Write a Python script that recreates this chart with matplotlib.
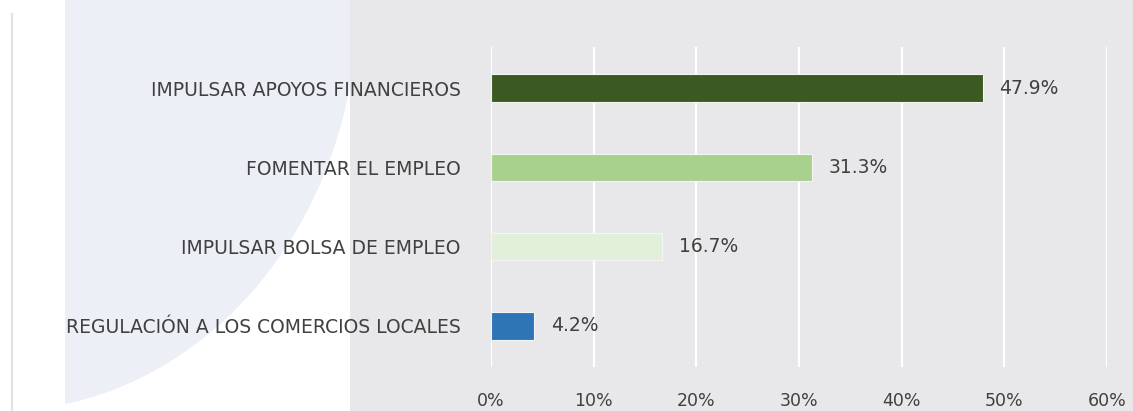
import numpy as np
import matplotlib.pyplot as plt
from matplotlib.patches import Rectangle, Ellipse

categories = ["IMPULSAR APOYOS FINANCIEROS", "FOMENTAR EL EMPLEO",
              "IMPULSAR BOLSA DE EMPLEO", "REGULACIÓN A LOS COMERCIOS LOCALES"]
values = [47.9, 31.3, 16.7, 4.2]
colors = ["#3B5A21", "#A9D18E", "#E2F0D9", "#2E75B6"]
ticks = [0, 10, 20, 30, 40, 50, 60]

W, H = 1133, 411
fig = plt.figure(figsize=(W / 100, H / 100), dpi=100)
fig.patch.set_facecolor("white")

# background decorations (lavender arc, grey panel, thin line)
fig.patches.append(Ellipse((0, 1), width=716 / W, height=822 / H,
                           transform=fig.transFigure, facecolor="#EDEFF7",
                           edgecolor="none", zorder=0))
fig.patches.append(Rectangle((0, 0), 65 / W, 1, transform=fig.transFigure,
                             facecolor="white", edgecolor="none", zorder=0.5))
fig.patches.append(Rectangle((350 / W, 0), 1 - 350 / W, 1, transform=fig.transFigure,
                             facecolor="#E8E8EA", edgecolor="none", zorder=1))
fig.lines.append(plt.Line2D([12 / W, 12 / W], [0, 1 - 14 / H], transform=fig.transFigure,
                            color="#E2E2E2", lw=1.5, zorder=1))

ax = fig.add_axes([491 / W, 1 - 367 / H, (1107 - 491) / W, (367 - 47) / H])
ax.set_facecolor("none")
ax.set_zorder(2)

txt = "#404040"
y = np.arange(len(categories))
ax.barh(y, values, height=0.35, color=colors, edgecolor="#F4F4F4", linewidth=0.8, zorder=3)
for yi, v in zip(y, values):
    ax.annotate(f"{v:.1f}%", (v, yi), xytext=(12, 0), textcoords="offset points",
                va="center", ha="left", fontsize=13.5, color=txt)

ax.set_xlim(0, 60)
ax.set_ylim(len(categories) - 0.48, -0.52)
ax.set_xticks(ticks)
ax.set_xticklabels([f"{t}%" for t in ticks], fontsize=12.5, color=txt)
ax.set_yticks(y)
ax.set_yticklabels(categories, fontsize=13.5, color=txt)
ax.tick_params(length=0, axis="y", pad=22)
ax.tick_params(length=0, axis="x", pad=18)
ax.grid(axis="x", color="white", lw=1.6, zorder=1)
ax.set_axisbelow(True)
for s in ax.spines.values():
    s.set_visible(False)

fig.savefig("out.png", dpi=100)
